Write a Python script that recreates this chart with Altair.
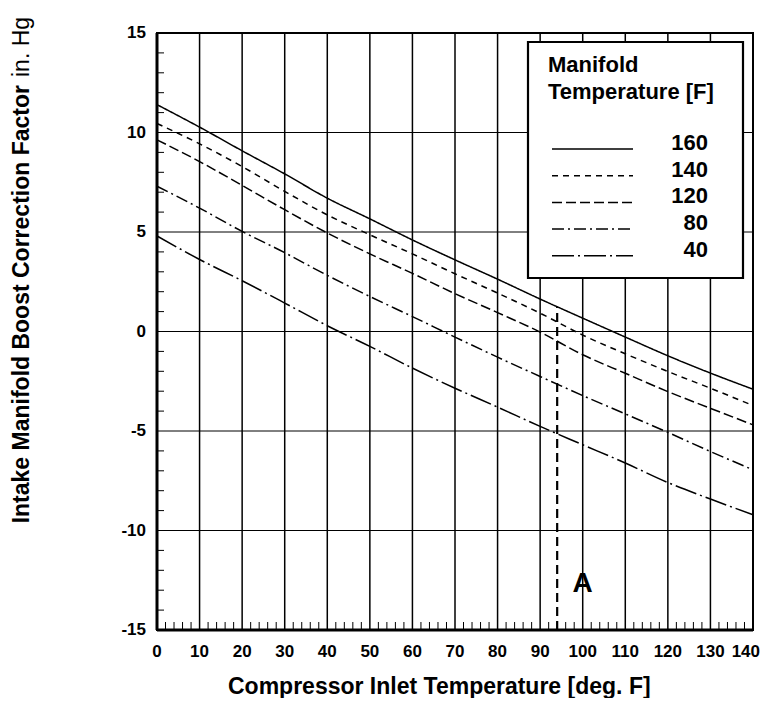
import altair as alt
import pandas as pd

# ---------------- data ----------------
x_vals = [0, 10, 20, 30, 40, 50, 60, 70, 80, 90, 100, 110, 120, 130, 140]
manifold_temps = ["160", "140", "120", "80", "40"]
s160 = [11.4, 10.27, 9.08, 7.92, 6.7, 5.66, 4.6, 3.6, 2.63, 1.63, 0.67, -0.28, -1.22, -2.09, -2.9]
s140 = [10.45, 9.43, 8.29, 7.04, 5.86, 4.86, 3.9, 2.9, 1.93, 0.92, -0.18, -1.12, -2.01, -2.85, -3.72]
s120 = [9.63, 8.54, 7.34, 6.12, 4.95, 3.9, 2.92, 1.9, 0.95, -0.03, -1.17, -2.1, -3.02, -3.86, -4.69]
s80 = [7.3, 6.2, 5.03, 3.96, 2.82, 1.76, 0.75, -0.28, -1.29, -2.26, -3.22, -4.14, -5.07, -6.03, -6.95]
s40 = [4.8, 3.62, 2.55, 1.43, 0.29, -0.75, -1.84, -2.85, -3.8, -4.77, -5.69, -6.61, -7.59, -8.42, -9.21]
series = [s160, s140, s120, s80, s40]
dash_patterns = [[1, 0], [6, 5], [10, 4], [12, 4, 2, 4], [22, 4, 2, 4]]

x_ticks = list(range(0, 141, 10))
y_ticks = [-15, -10, -5, 0, 5, 10, 15]
y_minor = [v for v in range(-14, 15) if v % 5 != 0]
x_minor = [v for v in range(2, 140, 2) if v % 10 != 0]

marker_x = [94]
marker_y0 = [-15]
marker_y1 = [1.25]
marker_label = ["A"]
marker_label_x = [100]
marker_label_y = [-12.7]

legend_title = ["Manifold", "Temperature [F]"]
y_title_bold = "Intake Manifold Boost Correction Factor"
y_title_unit = "in. Hg"
x_title = "Compressor Inlet Temperature [deg. F]"

FONT = "Liberation Sans"
W, H = 596, 597
XMIN, XMAX, YMIN, YMAX = 0, 140, -15, 15

rows = []
for name, ser in zip(manifold_temps, series):
    for xv, yv in zip(x_vals, ser):
        rows.append({"series": name, "x": xv, "y": yv})
df = pd.DataFrame(rows)

xscale = alt.Scale(domain=[XMIN, XMAX], nice=False, zero=False)
yscale = alt.Scale(domain=[YMIN, YMAX], nice=False, zero=False)


def X(f):
    return alt.X(f, scale=xscale, axis=None)


def Y(f):
    return alt.Y(f, scale=yscale, axis=None)


# grid
vgrid_df = pd.DataFrame({"x": x_ticks, "y0": YMIN, "y1": YMAX})
vgrid = alt.Chart(vgrid_df).mark_rule(color="black", strokeWidth=1.5).encode(
    x=X("x:Q"), y=Y("y0:Q"), y2="y1:Q")
hgrid_df = pd.DataFrame({"y": y_ticks, "x0": XMIN, "x1": XMAX})
hgrid = alt.Chart(hgrid_df).mark_rule(color="black", strokeWidth=1).encode(
    y=Y("y:Q"), x=X("x0:Q"), x2="x1:Q")

# minor ticks
ymin_df = pd.DataFrame({"y": y_minor})
ymin_rules = alt.Chart(ymin_df).mark_rule(color="black", strokeWidth=1).encode(
    y=Y("y:Q"), x=alt.value(0), x2=alt.value(7))
xmin_df = pd.DataFrame({"x": x_minor})
xmin_rules = alt.Chart(xmin_df).mark_rule(color="black", strokeWidth=1).encode(
    x=X("x:Q"), y=alt.value(H), y2=alt.value(H - 8))

# axis domain (left & bottom heavier)
ldom = alt.Chart(pd.DataFrame({"x": [XMIN], "y0": [YMIN], "y1": [YMAX]})).mark_rule(
    color="black", strokeWidth=3).encode(x=X("x:Q"), y=Y("y0:Q"), y2="y1:Q")
bdom = alt.Chart(pd.DataFrame({"y": [YMIN], "x0": [XMIN], "x1": [XMAX]})).mark_rule(
    color="black", strokeWidth=3).encode(y=Y("y:Q"), x=X("x0:Q"), x2="x1:Q")

# tick labels (last x label right-aligned so it stays on the page)
xlab_df = pd.DataFrame({"x": x_ticks[:-1], "y": YMIN, "t": [str(v) for v in x_ticks[:-1]]})
xlabels = alt.Chart(xlab_df).mark_text(font=FONT, fontWeight="bold", fontSize=17, color="black",
                                       baseline="middle", align="center", dy=22).encode(
    x=X("x:Q"), y=Y("y:Q"), text="t:N")
xlab_last_df = pd.DataFrame({"x": x_ticks[-1:], "y": YMIN, "t": [str(v) for v in x_ticks[-1:]]})
xlabel_last = alt.Chart(xlab_last_df).mark_text(font=FONT, fontWeight="bold", fontSize=17, color="black",
                                                baseline="middle", align="right", dy=22, dx=7).encode(
    x=X("x:Q"), y=Y("y:Q"), text="t:N")
ylab_df = pd.DataFrame({"y": y_ticks, "x": XMIN, "t": [str(v) for v in y_ticks]})
ylabels = alt.Chart(ylab_df).mark_text(font=FONT, fontWeight="bold", fontSize=17, color="black",
                                       baseline="middle", align="right", dx=-11).encode(
    x=X("x:Q"), y=Y("y:Q"), text="t:N")

# data lines
lines = alt.Chart(df).mark_line(color="black", strokeWidth=1.5, interpolate="monotone").encode(
    x=X("x:Q"), y=Y("y:Q"),
    strokeDash=alt.StrokeDash("series:N", scale=alt.Scale(domain=manifold_temps, range=dash_patterns),
                              legend=None),
    detail="series:N",
)

mk_df = pd.DataFrame({"x": marker_x, "y": marker_y0, "y2": marker_y1})
marker = alt.Chart(mk_df).mark_rule(color="black", strokeWidth=2.2, strokeDash=[9, 5]).encode(
    x=X("x:Q"), y=Y("y:Q"), y2="y2:Q")

mkl_df = pd.DataFrame({"x": marker_label_x, "y": marker_label_y, "t": marker_label})
marker_text = alt.Chart(mkl_df).mark_text(font=FONT, fontWeight="bold", fontSize=28, color="black").encode(
    x=X("x:Q"), y=Y("y:Q"), text="t:N")

one = pd.DataFrame({"a": [0]})

# x title
xtitle = alt.Chart(one).mark_text(font=FONT, fontWeight="bold", fontSize=23, align="left",
                                  baseline="middle", color="black", text=x_title).encode(
    x=alt.value(71), y=alt.value(H + 57))

# y title (bold part + regular unit)
ytitle1 = alt.Chart(one).mark_text(font=FONT, fontWeight="bold", fontSize=23, angle=270,
                                   align="right", baseline="middle", color="black",
                                   text=y_title_bold).encode(
    x=alt.value(-135), y=alt.value(52))
ytitle2 = alt.Chart(one).mark_text(font=FONT, fontWeight="normal", fontSize=23, angle=270,
                                   align="left", baseline="middle", color="black",
                                   text=y_title_unit).encode(
    x=alt.value(-135), y=alt.value(44))

# legend box
LX0, LX1, LY0, LY1 = 371, 586, 9, 245
legend_box = alt.Chart(one).mark_rect(fill="white", stroke="black", strokeWidth=2.2).encode(
    x=alt.value(LX0), x2=alt.value(LX1), y=alt.value(LY0), y2=alt.value(LY1))

legend_layers = [legend_box]
for i, t in enumerate(legend_title):
    legend_layers.append(
        alt.Chart(one).mark_text(font=FONT, fontWeight="bold", fontSize=22, align="left",
                                 baseline="middle", color="black", text=t).encode(
            x=alt.value(391), y=alt.value(32 + 27 * i)))
for i, (name, dash) in enumerate(zip(manifold_temps, dash_patterns)):
    py = 110 + 26.7 * i
    legend_layers.append(
        alt.Chart(one).mark_text(font=FONT, fontWeight="bold", fontSize=22, align="right",
                                 baseline="middle", color="black", text=name).encode(
            x=alt.value(551), y=alt.value(py)))
    legend_layers.append(
        alt.Chart(one).mark_rule(color="black", strokeWidth=1.5, strokeDash=dash).encode(
            x=alt.value(395), x2=alt.value(476), y=alt.value(py + 6)))

chart = alt.layer(
    vgrid, hgrid, ymin_rules, xmin_rules, lines, marker, marker_text, ldom, bdom,
    xlabels, xlabel_last, ylabels, xtitle, ytitle1, ytitle2, *legend_layers,
).properties(
    width=W, height=H,
    autosize=alt.AutoSizeParams(type="none"),
    padding={"left": 149, "top": 25, "right": 8, "bottom": 68},
    background="white",
).configure_view(
    stroke="black", strokeWidth=2,
)

chart.save("out.html", embed_options={"renderer": "svg", "actions": False})
